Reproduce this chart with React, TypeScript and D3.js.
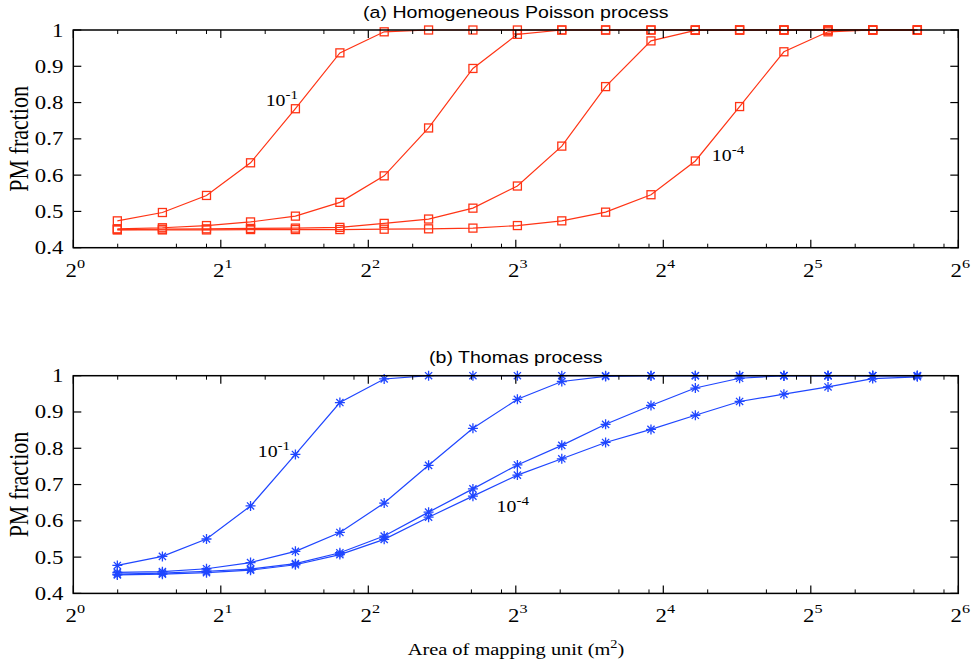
import React from 'react';
import * as d3 from 'd3';

// mapping unit areas (m2)
const areas = [1.23, 1.52, 1.87, 2.30, 2.84, 3.50, 4.31, 5.31, 6.54, 8.06, 9.93, 12.2, 15.1, 18.6, 22.9, 28.2, 34.7, 42.8, 52.8];

// (a) homogeneous Poisson process
const poisson1 = [0.474, 0.497, 0.544, 0.634, 0.783, 0.937, 0.995, 1, 1, 1, 1, 1, 1, 1, 1, 1, 1, 1, 1];
const poisson2 = [0.452, 0.455, 0.461, 0.471, 0.487, 0.525, 0.598, 0.730, 0.894, 0.988, 1, 1, 1, 1, 1, 1, 1, 1, 1];
const poisson3 = [0.450, 0.451, 0.452, 0.453, 0.454, 0.456, 0.467, 0.479, 0.509, 0.570, 0.680, 0.844, 0.970, 0.999, 1, 1, 1, 1, 1];
const poisson4 = [0.449, 0.449, 0.449, 0.450, 0.450, 0.450, 0.451, 0.452, 0.454, 0.461, 0.474, 0.498, 0.546, 0.639, 0.789, 0.940, 0.995, 1, 1];

// (b) Thomas process
const thomas1 = [0.477, 0.502, 0.550, 0.641, 0.783, 0.926, 0.991, 1, 1, 1, 1, 1, 1, 1, 1, 1, 1, 1, 1];
const thomas2 = [0.458, 0.460, 0.468, 0.485, 0.516, 0.568, 0.649, 0.753, 0.855, 0.935, 0.984, 0.998, 1, 1, 1, 1, 1, 1, 1];
const thomas3 = [0.453, 0.456, 0.461, 0.467, 0.482, 0.512, 0.558, 0.624, 0.688, 0.754, 0.808, 0.866, 0.918, 0.966, 0.993, 1, 1, 1, 1];
const thomas4 = [0.451, 0.453, 0.457, 0.464, 0.479, 0.507, 0.549, 0.610, 0.668, 0.726, 0.771, 0.816, 0.852, 0.891, 0.929, 0.949, 0.969, 0.992, 0.997];

const xPowers = [0, 1, 2, 3, 4, 5, 6];
const minorOffsets = [0.301, 0.699, 0.903];
const yTicks = [0.4, 0.5, 0.6, 0.7, 0.8, 0.9, 1];

// labels: [area, fraction, exponent]
const poissonNotes: [number, number, string][] = [[2.47, 0.79, '-1'], [20.1, 0.639, '-4']];
const thomasNotes: [number, number, string][] = [[2.38, 0.777, '-1'], [7.31, 0.625, '-4']];

const RED = '#ff3415';
const BLUE = '#1f46ff';
const SERIF = '"Liberation Serif", "Times New Roman", serif';
const SANS = '"Liberation Sans", Arial, sans-serif';
const SX = 1.2; // reference text is a bit wide

const x = d3.scaleLog().base(2).domain([1, 64]).range([73.3, 958.3]);

function Panel({ top, title, series, color, marker, notes }) {
  const h = 217.7;
  const y = d3.scaleLinear().domain([0.4, 1]).range([top + h, top]);
  const line = d3.line<number>().x((d, i) => x(areas[i])).y(d => y(d));
  const x0 = x.range()[0], x1 = x.range()[1];

  const minor: number[] = [];
  xPowers.slice(0, -1).forEach(p => minorOffsets.forEach(o => minor.push(Math.pow(2, p + o))));

  const mark = (cx, cy, k) => marker === 'square'
    ? <rect key={k} x={cx - 4} y={cy - 4} width={8} height={8} fill="none" stroke={color} strokeWidth={1.3} />
    : <path key={k} d={`M${cx - 5},${cy}h10M${cx},${cy - 5}v10M${cx - 3.6},${cy - 3.6}l7.2,7.2M${cx - 3.6},${cy + 3.6}l7.2,-7.2`}
        stroke={color} strokeWidth={1.3} fill="none" />;

  return (
    <g>
      <text transform={`translate(${(x0 + x1) / 2},${top - 12.5}) scale(${SX},1)`} textAnchor="middle"
        fontFamily={SANS} fontSize={16.3}>{title}</text>

      {series.map((s, si) => (
        <g key={si}>
          <path d={line(s)} fill="none" stroke={color} strokeWidth={1.2} />
          {s.map((v, i) => mark(x(areas[i]), y(v), i))}
        </g>
      ))}

      <rect x={x0} y={top} width={x1 - x0} height={h} fill="none" stroke="#000" strokeWidth={1.5} />

      {yTicks.map(t => (
        <g key={t}>
          <line x1={x0} x2={x0 + 8} y1={y(t)} y2={y(t)} stroke="#000" strokeWidth={1.2} />
          <line x1={x1} x2={x1 - 8} y1={y(t)} y2={y(t)} stroke="#000" strokeWidth={1.2} />
          <text transform={`translate(${x0 - 10},${y(t) + 6.5}) scale(${SX},1)`} textAnchor="end"
            fontFamily={SERIF} fontSize={19}>{t === 1 ? '1' : d3.format('.1f')(t)}</text>
        </g>
      ))}

      {xPowers.map(p => (
        <g key={p}>
          <line x1={x(2 ** p)} x2={x(2 ** p)} y1={top + h} y2={top + h - 8} stroke="#000" strokeWidth={1.2} />
          <line x1={x(2 ** p)} x2={x(2 ** p)} y1={top} y2={top + 8} stroke="#000" strokeWidth={1.2} />
          <text transform={`translate(${x(2 ** p) + 2},${top + h + 29}) scale(${SX},1)`} textAnchor="middle"
            fontFamily={SERIF} fontSize={19}>2<tspan dy={-9} fontSize={13.5}>{p}</tspan></text>
        </g>
      ))}
      {minor.map((m, i) => (
        <g key={i}>
          <line x1={x(m)} x2={x(m)} y1={top + h} y2={top + h - 4} stroke="#000" strokeWidth={1} />
          <line x1={x(m)} x2={x(m)} y1={top} y2={top + 4} stroke="#000" strokeWidth={1} />
        </g>
      ))}

      <text transform={`translate(28,${top + h / 2}) scale(${SX},1) rotate(-90)`} textAnchor="middle"
        fontFamily={SERIF} fontSize={22}>PM fraction</text>

      {notes.map(([a, v, e], i) => (
        <text key={i} transform={`translate(${x(a)},${y(v)}) scale(${SX},1)`} fontFamily={SERIF} fontSize={16.5}>
          10<tspan dy={-7} fontSize={12.5}>{e}</tspan>
        </text>
      ))}
    </g>
  );
}

export default function App() {
  return (
    <div style={{ position: 'absolute', left: 0, top: 0 }}>
      <svg width={971} height={670} style={{ display: 'block', background: '#fff' }}>
        <Panel top={30} title="(a) Homogeneous Poisson process" series={[poisson1, poisson2, poisson3, poisson4]}
          color={RED} marker="square" notes={poissonNotes} />
        <Panel top={375.7} title="(b) Thomas process" series={[thomas1, thomas2, thomas3, thomas4]}
          color={BLUE} marker="star" notes={thomasNotes} />
        <text transform={`translate(516,655) scale(${SX},1)`} textAnchor="middle" fontFamily={SERIF} fontSize={17}>
          Area of mapping unit (m<tspan dy={-7} fontSize={12}>2</tspan><tspan dy={7}>)</tspan>
        </text>
      </svg>
    </div>
  );
}
